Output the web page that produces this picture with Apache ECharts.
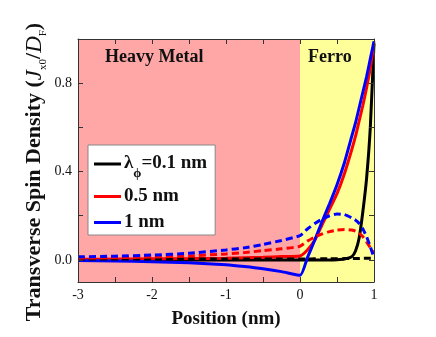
<!DOCTYPE html>
<html>
<head>
<meta charset="utf-8">
<script src="https://cdn.jsdelivr.net/npm/echarts@6/dist/echarts.min.js"></script>
<style>html,body{margin:0;padding:0;background:#fff}#c{width:436px;height:337px}</style>
</head>
<body>
<div id="c"></div>
<script>
// Position (nm)
var positions = [-3, -2.5, -2, -1.5, -1, -0.75, -0.5, -0.25, 0, 0.1, 0.2, 0.3, 0.4, 0.5, 0.6, 0.7, 0.75, 0.8, 0.85, 0.9, 0.95, 1.0];
// solid curves
var black01 = [0, 0, 0, 0, 0, 0, 0, 0, 0, 0, 0, 0, 0, 0.001, 0.004, 0.015, 0.04, 0.1, 0.22, 0.37, 0.6, 0.98];
var red05   = [0.003, 0.004, 0.005, 0.006, 0.008, 0.01, 0.012, 0.015, 0.018, 0.045, 0.09, 0.16, 0.23, 0.30, 0.39, 0.50, 0.56, 0.63, 0.70, 0.78, 0.87, 0.98];
var blue1   = [-0.003, -0.005, -0.008, -0.013, -0.022, -0.03, -0.04, -0.053, -0.07, 0.01, 0.09, 0.175, 0.255, 0.34, 0.44, 0.56, 0.62, 0.69, 0.76, 0.83, 0.91, 0.99];
// dashed curves
var black01d = [0.004, 0.004, 0.004, 0.004, 0.004, 0.004, 0.004, 0.004, 0.004, 0.004, 0.005, 0.005, 0.005, 0.005, 0.006, 0.006, 0.006, 0.006, 0.007, 0.007, 0.008, 0.008];
var red05d   = [0.008, 0.01, 0.013, 0.018, 0.027, 0.033, 0.042, 0.05, 0.062, 0.085, 0.104, 0.118, 0.128, 0.135, 0.138, 0.135, 0.13, 0.12, 0.105, 0.082, 0.055, 0.03];
var blue1d   = [0.014, 0.017, 0.022, 0.03, 0.045, 0.055, 0.07, 0.088, 0.11, 0.14, 0.165, 0.185, 0.2, 0.208, 0.205, 0.19, 0.18, 0.165, 0.14, 0.105, 0.06, 0.01];

var xLabelValues = [-3, -2, -1, 0, 1];
var xTickValues = [-3, -2.5, -2, -1.5, -1, -0.5, 0, 0.5, 1];
var yLabelValues = [0, 0.4, 0.8];
var yTickValues = [0, 0.2, 0.4, 0.6, 0.8];
var regions = [
  {name: 'Heavy Metal', from: -3, to: 0},
  {name: 'Ferro', from: 0, to: 1}
];

function pairs(ys) { return positions.map(function (x, i) { return [x, ys[i]]; }); }

var serif = '"Liberation Serif", "Times New Roman", serif';
var chart = echarts.init(document.getElementById('c'), null, {renderer: 'canvas'});

function axisBase(showLabels, ticks, labels) {
  return {
    z: 10,
    axisLine: {show: true, onZero: false, lineStyle: {color: '#333', width: 1}},
    axisTick: {show: true, inside: true, length: 5, customValues: ticks, lineStyle: {color: '#333'}},
    axisLabel: {show: showLabels, customValues: labels, color: '#111', fontFamily: serif, fontSize: 14},
    splitLine: {show: false}
  };
}

var xBottom = Object.assign(axisBase(true, xTickValues, xLabelValues), {
  type: 'value', min: -3, max: 1, position: 'bottom',
  name: 'Position (nm)', nameLocation: 'middle', nameGap: 28,
  nameTextStyle: {fontFamily: serif, fontWeight: 'bold', fontSize: 19, color: '#111'}
});
xBottom.axisLabel.margin = 6;
xBottom.axisLabel.formatter = function (v) { return String(v); };
var xTop = Object.assign(axisBase(false, xTickValues, xLabelValues), {type: 'value', min: -3, max: 1, position: 'top'});

var yLeft = Object.assign(axisBase(true, yTickValues, yLabelValues), {
  type: 'value', min: -0.1, max: 1.0, position: 'left'
});
yLeft.axisLabel.margin = 6;
yLeft.axisLabel.formatter = function (v) { return v.toFixed(1); };
var yRight = Object.assign(axisBase(false, yTickValues, yLabelValues), {type: 'value', min: -0.1, max: 1.0, position: 'right'});

function lineSeries(name, ys, color, dashed) {
  return {
    name: name, type: 'line', data: pairs(ys), xAxisIndex: 0, yAxisIndex: 0,
    showSymbol: false, symbol: 'none', smooth: 0.2, clip: true,
    lineStyle: {color: color, width: 3, type: dashed ? [7, 4] : 'solid'},
    itemStyle: {color: color},
    z: 3
  };
}

var bg = {
  name: 'bg', type: 'line', data: [], xAxisIndex: 0, yAxisIndex: 0, z: 1, silent: true,
  markArea: {
    silent: true,
    data: regions.map(function (r, i) {
      return [{
        xAxis: r.from, name: r.name,
        itemStyle: {color: i === 0 ? '#ffa6a6' : '#ffff99'},
        label: {
          show: true, position: 'insideTopLeft', distance: 0,
          offset: i === 0 ? [27, 9] : [8, 9],
          fontFamily: serif, fontWeight: 'bold', fontSize: 18, color: '#111'
        }
      }, {xAxis: r.to}];
    })
  }
};

var series = [
  bg,
  lineSeries('black', black01, '#000000', false),
  lineSeries('red', red05, '#ff0000', false),
  lineSeries('blue', blue1, '#0000ff', false),
  lineSeries('black dashed', black01d, '#000000', true),
  lineSeries('red dashed', red05d, '#ff0000', true),
  lineSeries('blue dashed', blue1d, '#0000ff', true)
];

var legendNames = {
  black: '{a|λ}{s|ϕ}{a|=0.1 nm}',
  red: '{b|0.5 nm}',
  blue: '{b|1 nm}'
};

chart.setOption({
  animation: false,
  backgroundColor: '#ffffff',
  grid: {left: 78, right: 62, top: 39, bottom: 55, containLabel: false},
  xAxis: [xBottom, xTop],
  yAxis: [yLeft, yRight],
  graphic: [{
    type: 'text', x: 35, y: 172, rotation: Math.PI / 2, z: 20,
    style: {
      text: '{t|Transverse Spin Density (}{i|J}{s|x0}{t|/}{i|D}{s|F}{t|)}',
      align: 'center', verticalAlign: 'middle',
      rich: {
        t: {fontFamily: serif, fontWeight: 'bold', fontSize: 22, fill: '#111', lineHeight: 24, verticalAlign: 'top'},
        i: {fontFamily: serif, fontStyle: 'italic', fontSize: 23, fill: '#111', lineHeight: 24, verticalAlign: 'top'},
        s: {fontFamily: serif, fontSize: 11, fill: '#111', lineHeight: 11, verticalAlign: 'top', padding: [15, 0, 0, 0]}
      }
    }
  }],
  legend: {
    data: ['black', 'red', 'blue'],
    orient: 'vertical', left: 88, top: 145,
    icon: 'rect', itemWidth: 27, itemHeight: 3, itemGap: 7,
    backgroundColor: '#ffffff', borderColor: '#888', borderWidth: 1,
    padding: [9, 8, 3, 6],
    formatter: function (n) { return legendNames[n]; },
    textStyle: {
      fontFamily: serif, color: '#111', padding: [0, 0, 0, -2],
      rich: {
        a: {fontFamily: serif, fontWeight: 'bold', fontSize: 19, color: '#111', lineHeight: 20, verticalAlign: 'top'},
        b: {fontFamily: serif, fontWeight: 'bold', fontSize: 19, color: '#111', lineHeight: 20},
        s: {fontFamily: serif, fontWeight: 'bold', fontSize: 13, color: '#111', lineHeight: 12, verticalAlign: 'top', padding: [13, 0, 0, 0]}
      }
    }
  },
  series: series
});
</script>
</body>
</html>
